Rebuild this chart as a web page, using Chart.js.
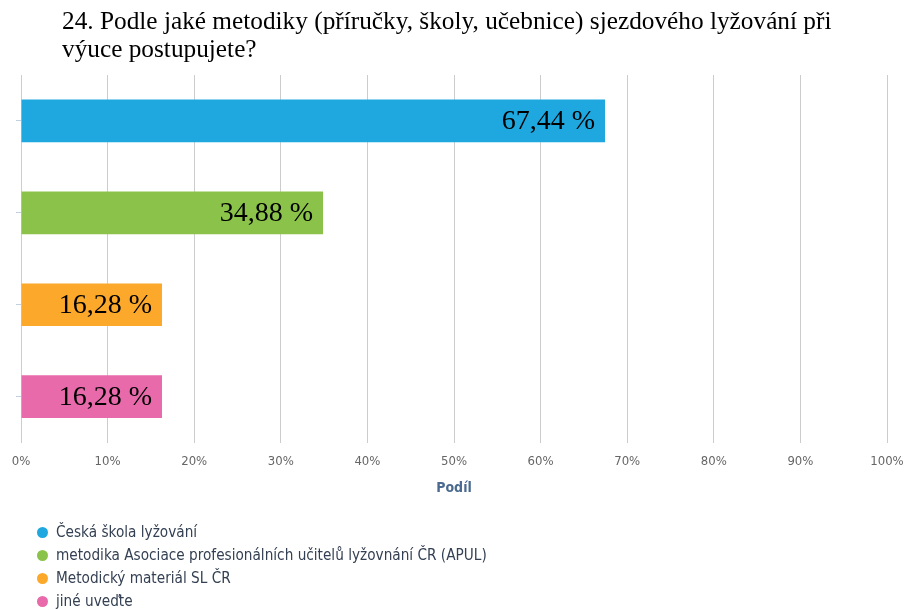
<!DOCTYPE html>
<html>
<head>
<meta charset="utf-8">
<script src="https://cdn.jsdelivr.net/npm/chart.js@4"></script>
<style>
  html, body { margin: 0; padding: 0; background: #fff; }
  #wrap { position: relative; width: 905px; height: 610px; }
  #title {
    position: absolute; left: 62px; top: 6px;
    font: 25.3px "Liberation Serif", serif; line-height: 28px; color: #000;
  }
  #legend {
    position: absolute; left: 37px; top: 521px; margin: 0; padding: 0;
    list-style: none; font: 15.2px "DejaVu Sans Condensed", "DejaVu Sans", sans-serif; color: #333f52;
  }
  #legend li { height: 23px; line-height: 23px; }
  #legend span.dot {
    display: inline-block; width: 11px; height: 11px; border-radius: 50%;
    margin-right: 8px; vertical-align: -1px;
  }
</style>
</head>
<body>
<div id="wrap">
  <canvas id="chart" width="905" height="610"></canvas>
  <div id="title">24. Podle jaké metodiky (příručky, školy, učebnice) sjezdového lyžování při<br>výuce postupujete?</div>
  <ul id="legend"></ul>
</div>
<script>
// data
const categories = [
    'Česká škola lyžování',
    'metodika Asociace profesionálních učitelů lyžovnání ČR (APUL)',
    'Metodický materiál SL ČR',
    'jiné uveďte'
];
const shares = [67.44, 34.88, 16.28, 16.28];
const barColors = ['#1fa8e0', '#8bc34a', '#fca82b', '#e86aab'];
const xTicks = [0, 10, 20, 30, 40, 50, 60, 70, 80, 90, 100];

// popisky hodnot uvnitř sloupců
const valueLabels = {
    id: 'valueLabels',
    afterDatasetsDraw(chart) {
        const ctx = chart.ctx;
        const meta = chart.getDatasetMeta(0);
        ctx.save();
        ctx.font = '28px "Liberation Serif", serif';
        ctx.fillStyle = '#000';
        ctx.textAlign = 'right';
        ctx.textBaseline = 'middle';
        meta.data.forEach((bar, i) => {
            const txt = shares[i].toFixed(2).replace('.', ',') + ' %';
            ctx.fillText(txt, bar.x - 10, bar.y + 1);
        });
        ctx.restore();
    }
};

const ctx = document.getElementById('chart').getContext('2d');
new Chart(ctx, {
    type: 'bar',
    data: {
        labels: categories,
        datasets: [{
            data: shares,
            backgroundColor: barColors,
            categoryPercentage: 1,
            barPercentage: 0.465
        }]
    },
    options: {
        indexAxis: 'y',
        responsive: false,
        animation: false,
        layout: { padding: { top: 75, right: 18, bottom: 109, left: 0 } },
        plugins: {
            legend: { display: false },
            tooltip: { enabled: false }
        },
        scales: {
            x: {
                min: 0,
                max: 100,
                afterBuildTicks: scale => { scale.ticks = xTicks.map(v => ({ value: v })); },
                afterFit: scale => { scale.paddingLeft = 0; scale.paddingRight = 0; },
                grid: { color: '#cccccc', drawTicks: false },
                border: { display: false },
                ticks: {
                    padding: 11,
                    color: '#666',
                    font: { family: '"DejaVu Sans Condensed", "DejaVu Sans", sans-serif', size: 13 },
                    callback: v => v + '%'
                },
                title: {
                    display: true,
                    text: 'Podíl',
                    color: '#4a6a90',
                    padding: { top: 0, bottom: 4 },
                    font: { family: '"DejaVu Sans Condensed", "DejaVu Sans", sans-serif', size: 14, weight: 'bold' }
                }
            },
            y: {
                afterFit: scale => { scale.width = 21; },
                grid: { offset: false, color: 'transparent', tickColor: '#c0d0e0', tickLength: 5 },
                border: { color: '#c0d0e0' },
                ticks: { display: false }
            }
        }
    },
    plugins: [valueLabels]
});

// legenda
const legend = document.getElementById('legend');
categories.forEach((name, i) => {
    const li = document.createElement('li');
    li.innerHTML = '<span class="dot" style="background:' + barColors[i] + '"></span>' + name;
    legend.appendChild(li);
});
</script>
</body>
</html>
